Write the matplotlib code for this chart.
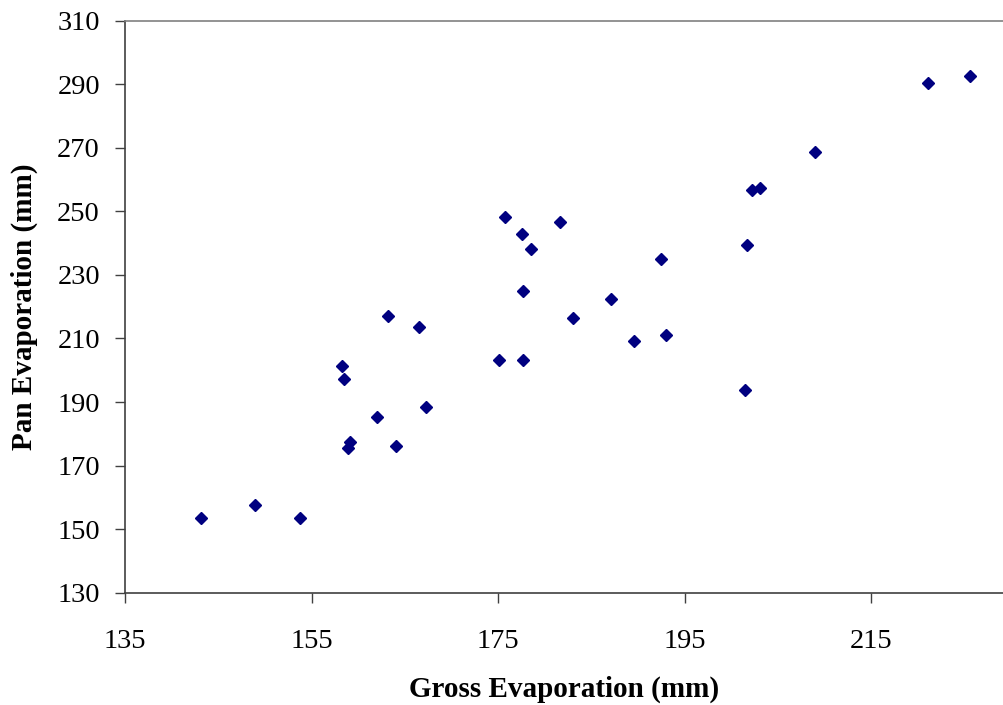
import matplotlib
matplotlib.use("Agg")
import matplotlib.pyplot as plt
from matplotlib import rcParams

rcParams["font.family"] = "Liberation Serif"

# Gross evaporation (mm) vs pan evaporation (mm)
gross = [143.1, 148.9, 153.8, 163.2, 166.5, 158.3, 158.5, 162.0, 167.3, 159.1,
         158.9, 164.0, 175.7, 177.5, 178.5, 181.6, 192.4, 177.7, 187.1, 183.0,
         189.6, 193.0, 175.1, 177.7, 221.1, 225.6, 209.0, 202.2, 203.1, 201.7,
         201.5]
pan = [153.4, 157.6, 153.4, 217.1, 213.5, 201.4, 197.2, 185.3, 188.3, 177.5,
       175.4, 176.3, 248.2, 243.0, 238.1, 246.6, 235.0, 224.9, 222.5, 216.4,
       209.3, 211.1, 203.2, 203.2, 290.3, 292.7, 268.7, 256.7, 257.3, 239.3,
       193.7]

x_ticks = [135, 155, 175, 195, 215]
y_ticks = [130, 150, 170, 190, 210, 230, 250, 270, 290, 310]

fig = plt.figure(figsize=(10.04, 7.05), dpi=100)
ax = fig.add_axes([125 / 1004, 1 - 592.7 / 705, 1 - 125 / 1004, (592.7 - 20.7) / 705])

ax.plot(gross, pan, linestyle="none", marker="D", markersize=6.6,
        color="#000080", markeredgecolor="#000080")

ax.set_xlim(135, 135 + 879 / 9.33)
ax.set_ylim(130, 310)
ax.set_xticks(x_ticks)
ax.set_yticks(y_ticks)

for side in ["left", "bottom"]:
    ax.spines[side].set_color("#404040")
    ax.spines[side].set_linewidth(1.2)
ax.spines["top"].set_color("#808080")
ax.spines["top"].set_linewidth(1.2)
ax.spines["right"].set_visible(False)

ax.tick_params(axis="both", direction="out", length=7, width=1.0,
               color="#404040", labelsize=20.5)
ax.tick_params(axis="x", pad=19)
ax.tick_params(axis="y", pad=11)

ax.set_xlabel("Gross Evaporation (mm)", fontsize=21, fontweight="bold", labelpad=16)
ax.set_ylabel("Pan Evaporation (mm)", fontsize=21, fontweight="bold", labelpad=14)

fig.savefig("out.png", dpi=100)
